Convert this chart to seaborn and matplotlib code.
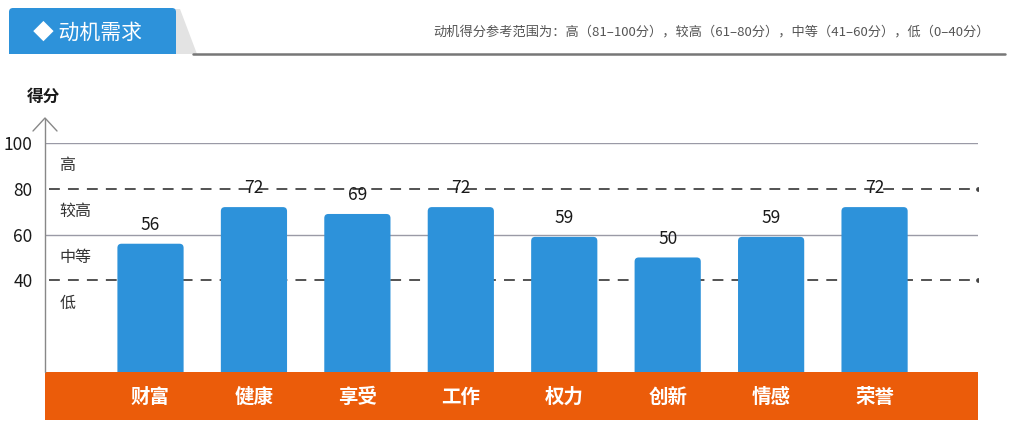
import matplotlib
matplotlib.use("Agg")
import matplotlib.pyplot as plt
import seaborn as sns
from matplotlib.patches import FancyBboxPatch, Polygon, Rectangle

categories = ['财富', '健康', '享受', '工作', '权力', '创新', '情感', '荣誉']
values = [56, 72, 69, 72, 59, 50, 59, 72]
ytick_vals = [40, 60, 80, 100]
ytick_labels = ['40', '60', '80', '100']
level_labels = ['低', '中等', '较高', '高']
level_pos = [30, 50, 70, 90]
title_text = '◆ 动机需求'
subtitle_text = '动机得分参考范围为：高（81–100分），较高（61–80分），中等（41–60分），低（0–40分）'

sns.set_theme(style='white')
plt.rcParams['font.family'] = ['Noto Sans CJK SC', 'DejaVu Sans']

BLUE = '#2D92DA'
ORANGE = '#EB5C0A'

fig = plt.figure(figsize=(10.12, 4.26), dpi=100)
W, H = 1012, 426
ax = fig.add_axes([45 / W, 1 - 420 / H, (978 - 45) / W, (420 - 143) / H])

sns.barplot(x=categories, y=values, color=BLUE, width=0.64, ax=ax,
            saturation=1, zorder=3, linewidth=0, edgecolor=BLUE)
ax.set_xlim(-1.02, 8.0)
ax.set_ylim(-21, 100)

# replace bar rectangles with rounded-top versions (geometry from seaborn)
rx = 0.04
aspect = (2.3 / 103.5)
for p in list(ax.patches):
    x0, w, h = p.get_x(), p.get_width(), p.get_height()
    p.set_visible(False)
    fb = FancyBboxPatch((x0, -4), w, h + 4,
                        boxstyle=f'round,pad=0,rounding_size={rx}',
                        mutation_aspect=1 / aspect, color=BLUE, lw=0, zorder=3)
    ax.add_patch(fb)

# reference lines
ax.axhline(100, color='#9a9aa6', lw=1.0, zorder=1)
ax.axhline(60, color='#9a9aa6', lw=1.0, zorder=1)
for yv in (80, 40):
    ax.plot([-0.98, 8.0], [yv, yv], color='#444444', lw=1.3,
            dashes=(6, 4.5), zorder=1)
    ax.plot([8.0], [yv], marker='o', ms=2.4, color='#444444', zorder=1)

# orange band
ax.axhspan(-21, 0, color=ORANGE, zorder=4, lw=0)

# value labels
ax.bar_label(ax.containers[0], labels=[str(v) for v in values], padding=7,
             fontsize=12.5, color='#1a1a1a', zorder=5)

# category labels inside band
for i, c in enumerate(categories):
    ax.text(i, -11, c, ha='center', va='center', color='white',
            fontsize=14, fontweight='heavy', zorder=5)

# level labels
for p, lab in zip(level_pos, level_labels):
    ax.text(-0.88, p, lab, ha='left', va='center', fontsize=11.5,
            color='#333333', zorder=5)

ax.set_yticks(ytick_vals)
ax.set_yticklabels(ytick_labels, fontsize=12.5, color='#1a1a1a')
ax.tick_params(axis='y', length=0, pad=9)
ax.set_xticks([])
ax.set_xlabel('')
ax.set_ylabel('')
for s in ax.spines.values():
    s.set_visible(False)

# y axis with arrow
ytr = ax.get_yaxis_transform()
ax.plot([0, 0], [0, 110.5], transform=ytr, color='#888888', lw=1.0,
        clip_on=False, zorder=5)

# overlay axes in pixel coordinates for header and arrow
ov = fig.add_axes([0, 0, 1, 1], zorder=-1)
ov.set_xlim(0, W)
ov.set_ylim(H, 0)
ov.axis('off')
ov.patch.set_alpha(0)

ov.plot([33, 45, 57], [131, 118, 131], color='#888888', lw=1.0)
ov.text(43, 97, '得分', ha='center', va='center', fontsize=12,
        color='#1a1a1a', fontweight='bold')

ov.add_patch(Polygon([[172, 9], [180, 9], [197, 54], [172, 54]],
                     closed=True, color='#e3e3e3', lw=0))
ov.add_patch(FancyBboxPatch((9, 8), 167, 46,
                            boxstyle='round,pad=0,rounding_size=4',
                            color=BLUE, lw=0))
ov.add_patch(Rectangle((9, 40), 167, 14, color=BLUE, lw=0))
ov.plot([193, 1005], [54, 54], color='#777777', lw=1.8)
ov.text(33, 33, title_text, ha='left', va='center', color='white',
        fontsize=15)
ov.text(990, 32, subtitle_text, ha='right', va='center', color='#555555',
        fontsize=9.5)

fig.savefig('out.png', dpi=100)
